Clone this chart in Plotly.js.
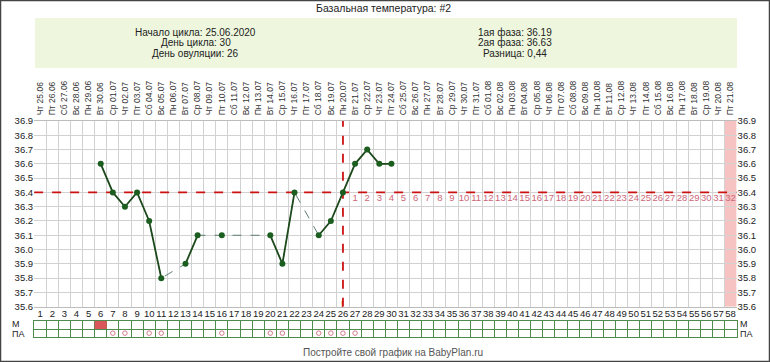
<!DOCTYPE html>
<html><head><meta charset="utf-8">
<script src="https://cdn.plot.ly/plotly-3.0.1.min.js"></script>
<style>html,body{margin:0;padding:0;background:#fff}#chart{width:770px;height:362px}</style>
</head><body><div id="chart"></div>
<script>
// ---- data ----
const cycleDays = [1,2,3,4,5,6,7,8,9,10,11,12,13,14,15,16,17,18,19,20,21,22,23,24,25,26,27,28,29,30];
const temps = [null,null,null,null,null,36.6,36.4,36.3,36.4,36.2,35.8,null,35.9,36.1,null,36.1,null,null,null,36.1,35.9,36.4,null,36.1,36.2,36.4,36.6,36.7,36.6,36.6];
const dateLabels = [
 "Чт 25.06","Пт 26.06","Сб 27.06","Вс 28.06","Пн 29.06","Вт 30.06",
 "Ср 01.07","Чт 02.07","Пт 03.07","Сб 04.07","Вс 05.07","Пн 06.07","Вт 07.07","Ср 08.07","Чт 09.07","Пт 10.07",
 "Сб 11.07","Вс 12.07","Пн 13.07","Вт 14.07","Ср 15.07","Чт 16.07","Пт 17.07","Сб 18.07","Вс 19.07","Пн 20.07",
 "Вт 21.07","Ср 22.07","Чт 23.07","Пт 24.07","Сб 25.07","Вс 26.07","Пн 27.07","Вт 28.07","Ср 29.07","Чт 30.07","Пт 31.07",
 "Сб 01.08","Вс 02.08","Пн 03.08","Вт 04.08","Ср 05.08","Чт 06.08","Пт 07.08","Сб 08.08","Вс 09.08","Пн 10.08",
 "Вт 11.08","Ср 12.08","Чт 13.08","Пт 14.08","Сб 15.08","Вс 16.08","Пн 17.08","Вт 18.08","Ср 19.08","Чт 20.08","Пт 21.08"];
const menstruationDays = [6];
const paDays = [7,8,10,11,16,20,21,24,25,26,27];
const coverline = 36.4;
const ovulationDay = 26;
const highlightDay = 58;
const yTicks = [35.6,35.7,35.8,35.9,36.0,36.1,36.2,36.3,36.4,36.5,36.6,36.7,36.8,36.9];
const titleText = "Базальная температура: #2";
const headerLeft = ["Начало цикла: 25.06.2020","День цикла: 30","День овуляции: 26"];
const headerRight = ["1ая фаза: 36.19","2ая фаза: 36.63","Разница: 0,44"];
const footerText = "Постройте свой график на BabyPlan.ru";

// ---- derived ----
const nDays = dateLabels.length;
const allDays = dateLabels.map((_, i) => i + 1);
const dayNumbers = allDays.map(String);
const halfTicks = [0, ...allDays].map(d => d + 0.5);
const postOvDays = allDays.filter(d => d > ovulationDay);
const postOvLabels = postOvDays.map(d => String(d - ovulationDay));

const W = 770, H = 362;
const px = v => v / W, py = v => 1 - v / H;
const xDom = [px(34.1), px(736.6)];
const yDom = [py(306.7), py(121)];
const tDom = [py(337.3), py(320.7)];
const xr = [0.5, nDays + 0.5];
const FONT = "Liberation Sans, Arial, sans-serif";
const grid = "#d2d2d2";
const tableGreen = "#4f8a4f";

const traces = [
  {x: cycleDays, y: temps, type: "scatter", mode: "lines", connectgaps: true,
   line: {color: "#5f7f6f", width: 1, dash: "dash"}, hoverinfo: "skip", xaxis: "x", yaxis: "y"},
  {x: cycleDays, y: temps, type: "scatter", mode: "lines+markers", connectgaps: false,
   line: {color: "#1d4a1d", width: 1.8}, marker: {color: "#1b5e20", size: 6}, xaxis: "x", yaxis: "y"},
  {x: postOvDays, y: postOvDays.map(() => coverline - 0.045), type: "scatter", mode: "text",
   text: postOvLabels, textfont: {family: FONT, size: 9.5, color: "#cc6677"}, xaxis: "x", yaxis: "y"},
  {x: menstruationDays, y: menstruationDays.map(() => 1), base: menstruationDays.map(() => 1), width: 1,
   type: "bar", marker: {color: "#d9575a", line: {width: 0}}, xaxis: "x4", yaxis: "y3"},
  {x: paDays, y: paDays.map(() => 0.5), type: "scatter", mode: "markers",
   marker: {symbol: "circle-open", size: 4.5, color: "#d07a8a", line: {width: 1}}, xaxis: "x4", yaxis: "y3"},
  {x: [], y: [], type: "scatter", xaxis: "x2", yaxis: "y"},
  {x: [], y: [], type: "scatter", xaxis: "x3", yaxis: "y"},
  {x: [], y: [], type: "scatter", xaxis: "x", yaxis: "y2"}
];

const note = (text, x, y, size, color, xanchor) => ({text, x, y, xref: "paper", yref: "paper",
  xanchor: xanchor || "center", yanchor: "middle", showarrow: false, borderpad: 0,
  font: {family: FONT, size, color}});

const ann = [
  note(titleText, px(383), py(8), 10.5, "#222"),
  ...headerLeft.map((t, i) => note(t, px(196), py(32 + i * 11), 10, "#222")),
  ...headerRight.map((t, i) => note(t, px(515), py(32 + i * 11), 10, "#222")),
  {text: "!", x: ovulationDay, xref: "x", y: py(304), yref: "paper", showarrow: false,
   xanchor: "center", yanchor: "middle", font: {family: FONT, size: 9, color: "#cc0000"}},
  note("М", px(11), py(323.8), 9, "#222", "left"),
  note("ПА", px(11), py(334.2), 9, "#222", "left"),
  note("М", px(739), py(323.8), 9, "#222", "left"),
  note("ПА", px(739), py(334.2), 9, "#222", "left"),
  note(footerText, px(393), py(352), 10, "#555")
];

const shapes = [
  {type: "rect", xref: "paper", yref: "paper", x0: px(35), x1: px(737), y0: py(68), y1: py(18),
   fillcolor: "#eef7de", line: {width: 0}, layer: "below"},
  {type: "rect", xref: "x", yref: "y", x0: highlightDay - 0.5, x1: highlightDay + 0.5, y0: 35.6, y1: 36.9,
   fillcolor: "#f7c2c2", line: {width: 0}, layer: "below"},
  {type: "line", xref: "x", yref: "y", x0: xr[0], x1: xr[1], y0: coverline, y1: coverline,
   line: {color: "#cc1111", width: 1.8, dash: "dash"}, layer: "between"},
  {type: "line", xref: "x", yref: "y", x0: ovulationDay, x1: ovulationDay, y0: 35.6, y1: 36.9,
   line: {color: "#cc1111", width: 1.8, dash: "dash"}, layer: "between"},
  {type: "rect", xref: "paper", yref: "paper", x0: 0, x1: 1, y0: 0, y1: 1,
   line: {color: "#444", width: 2.5}, fillcolor: "rgba(0,0,0,0)", layer: "above"}
];

const layout = {
  width: W, height: H, autosize: false,
  margin: {l: 0, r: 0, t: 0, b: 0, pad: 0},
  paper_bgcolor: "#fff", plot_bgcolor: "rgba(0,0,0,0)",
  showlegend: false, hovermode: false,
  font: {family: FONT, color: "#222"},
  xaxis: {domain: xDom, range: xr, tickmode: "array", tickvals: halfTicks, showticklabels: false,
    showgrid: true, gridcolor: grid, gridwidth: 1, zeroline: false, showline: true, mirror: true,
    linecolor: "#bcbcbc", linewidth: 1, ticks: "", anchor: "y", fixedrange: true},
  xaxis2: {overlaying: "x", side: "top", anchor: "y", range: xr, tickmode: "array", tickvals: allDays,
    ticktext: dateLabels, tickangle: -90, tickfont: {family: FONT, size: 8.5, color: "#333"},
    showgrid: false, zeroline: false, ticks: "outside", ticklen: 3, tickcolor: "rgba(0,0,0,0)", showline: false},
  xaxis3: {overlaying: "x", side: "bottom", anchor: "y", range: xr, tickmode: "array", tickvals: allDays,
    ticktext: dayNumbers, tickangle: 0, tickfont: {family: FONT, size: 9.5, color: "#222"},
    showgrid: false, zeroline: false, ticks: "", showline: false},
  yaxis: {domain: yDom, range: [35.6, 36.9], tickmode: "array", tickvals: yTicks,
    ticktext: yTicks.map(v => v.toFixed(1)), side: "left", anchor: "x",
    tickfont: {family: FONT, size: 9.5, color: "#222"}, showgrid: true, gridcolor: grid,
    zeroline: false, ticks: "", showline: false},
  yaxis2: {overlaying: "y", side: "right", anchor: "x", range: [35.6, 36.9], tickmode: "array",
    tickvals: yTicks, ticktext: yTicks.map(v => v.toFixed(1)),
    tickfont: {family: FONT, size: 9.5, color: "#222"}, showgrid: false, zeroline: false, ticks: "", showline: false},
  xaxis4: {domain: xDom, range: xr, anchor: "y3", tickmode: "array", tickvals: halfTicks, showticklabels: false,
    showgrid: true, gridcolor: tableGreen, zeroline: false, showline: true, mirror: true, linecolor: tableGreen, ticks: ""},
  yaxis3: {domain: tDom, range: [0, 2], anchor: "x4", tickmode: "array", tickvals: [0, 1, 2], showticklabels: false,
    showgrid: true, gridcolor: tableGreen, zeroline: false, showline: true, mirror: true, linecolor: tableGreen, ticks: ""},
  annotations: ann,
  shapes: shapes
};

Plotly.newPlot("chart", traces, layout, {staticPlot: true, displayModeBar: false});
</script></body></html>
